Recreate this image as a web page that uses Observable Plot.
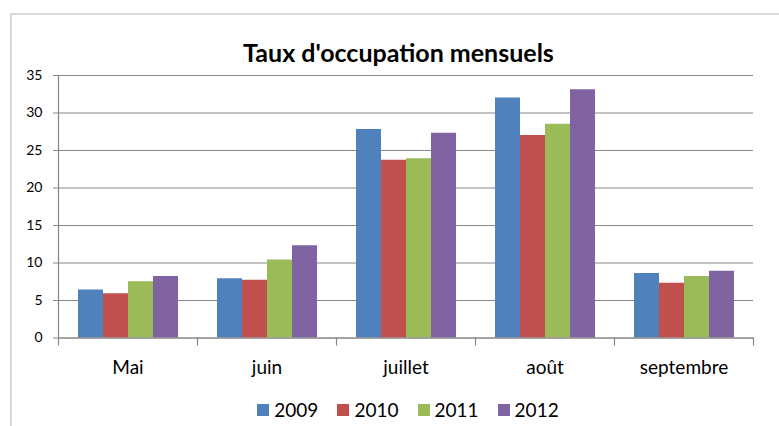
<!DOCTYPE html>
<html>
<head>
<meta charset="utf-8">
<script src="https://cdn.jsdelivr.net/npm/d3@7"></script>
<script src="https://cdn.jsdelivr.net/npm/@observablehq/plot@0.6"></script>
<style>
  html, body { margin: 0; padding: 0; background: #fff; }
  #wrap { position: relative; width: 779px; height: 426px; overflow: hidden; font-family: Lato, sans-serif; }
  #border { position: absolute; left: 10px; top: 13px; width: 800px; height: 500px;
            border-left: 2px solid #d9d9d9; border-top: 2px solid #d9d9d9; }
  #title { position: relative; box-sizing: border-box; width: 779px; height: 62px; padding-top: 42px; padding-left: 18px;
           line-height: 21px; text-align: center; font-weight: bold; font-size: 25px; color: #000; white-space: nowrap; }
  #chart { position: relative; }
  .lg-swatch { margin-right: 19px !important; }
  .lg-swatch > svg { margin-right: 5px !important; }
</style>
</head>
<body>
<div id="wrap">
  <div id="border"></div>
  <div id="title">Taux d'occupation mensuels</div>
  <div id="chart"></div>
</div>
<script>
const months = ["Mai", "juin", "juillet", "août", "septembre"];
const years = ["2009", "2010", "2011", "2012"];
const v2009 = [6.4, 7.9, 27.8, 32.0, 8.6];
const v2010 = [5.9, 7.7, 23.7, 27.0, 7.3];
const v2011 = [7.5, 10.4, 23.9, 28.5, 8.2];
const v2012 = [8.2, 12.3, 27.3, 33.1, 8.9];
const yTicks = [0, 5, 10, 15, 20, 25, 30, 35];
const colors = ["#4f81bd", "#c0504d", "#9bbb59", "#8064a2"];

const series = [v2009, v2010, v2011, v2012];
const table = months.flatMap((m, i) => years.map((yr, j) => ({month: m, year: yr, value: series[j][i]})));

const gray = "#868686";
const plot = Plot.plot({
  width: 779,
  height: 323,
  marginTop: 13,
  marginBottom: 47.5,
  marginLeft: 57,
  marginRight: 25,
  style: {fontFamily: "Lato, sans-serif", color: "#000", background: "transparent"},
  fx: {domain: months, padding: 0, label: null},
  x: {domain: years, paddingInner: 0, paddingOuter: 0.74, axis: null},
  y: {domain: [0, 35], label: null},
  color: {domain: years, range: colors},
  marks: [
    Plot.gridY(yTicks, {stroke: gray, strokeOpacity: 1, strokeWidth: 1.2}),
    Plot.barY(table, {fx: "month", x: "year", y: "value", fill: "year"}),
    Plot.ruleY([0], {stroke: gray, strokeWidth: 1.2}),
    Plot.frame({anchor: "left", facet: "super", insetBottom: -7, stroke: gray, strokeWidth: 1.2}),
    Plot.frame({anchor: "right", insetTop: 262.5, insetBottom: -7, stroke: gray, strokeWidth: 1.2}),
    Plot.axisY(yTicks, {tickSize: 5, tickPadding: 11, fontSize: 14, stroke: gray, fill: "#000", label: null, tickFormat: d => String(d)}),
    Plot.axisFx({anchor: "bottom", tickSize: 0, tickPadding: 22, fontSize: 19, fill: "#000", label: null})
  ]
});
document.getElementById("chart").appendChild(plot);

const legend = Plot.legend({
  color: {type: "categorical", domain: years, range: colors},
  swatchSize: 12,
  className: "lg",
  style: {fontSize: "19px", fontFamily: "Lato, sans-serif", color: "#000", justifyContent: "center",
          height: "49px", minHeight: "49px", margin: "0", width: "779px", boxSizing: "border-box", paddingLeft: "56px"}
});
document.getElementById("chart").appendChild(legend);
</script>
</body>
</html>
